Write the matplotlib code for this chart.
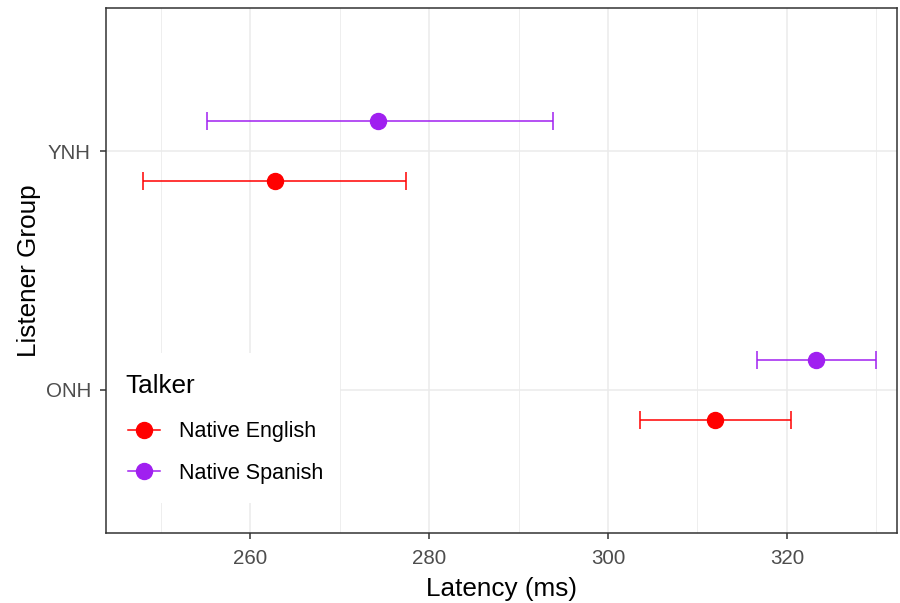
import matplotlib.pyplot as plt
from matplotlib.lines import Line2D
from matplotlib.patches import Rectangle
from matplotlib.ticker import MultipleLocator

plt.rcParams["font.family"] = ["Liberation Sans", "DejaVu Sans"]

# mean latency and interval bounds per listener group and talker
groups = ["ONH", "YNH"]
talkers = ["Native English", "Native Spanish"]
colors = ["#FF0000", "#A020F0"]
mean_ms = {"Native English": [312.0, 262.75], "Native Spanish": [323.2, 274.35]}
low_ms = {"Native English": [303.6, 248.0], "Native Spanish": [316.6, 255.2]}
high_ms = {"Native English": [320.4, 277.4], "Native Spanish": [329.9, 293.8]}
dodge = {"Native English": -0.125, "Native Spanish": 0.125}

fig = plt.figure(figsize=(9, 6.03), dpi=100)
ax = fig.add_axes([106 / 900, 1 - 533 / 603, 791 / 900, 525 / 603])

handles = []
for talker, col in zip(talkers, colors):
    ys = [i + 1 + dodge[talker] for i in range(len(groups))]
    xs = mean_ms[talker]
    xerr = [[m - l for m, l in zip(xs, low_ms[talker])],
            [h - m for m, h in zip(xs, high_ms[talker])]]
    ax.errorbar(xs, ys, xerr=xerr, fmt="o", color=col, ecolor=col,
                markersize=11.5, elinewidth=1.1, capsize=6.5, capthick=1.1,
                zorder=3)
    handles.append(Line2D([], [], color=col, marker="o", markersize=11.5,
                          linewidth=1.1, label=talker))

ax.set_xlim(243.9, 332.3)
ax.set_ylim(0.4, 2.6)
ax.set_yticks([1, 2])
ax.set_yticklabels(groups)
ax.xaxis.set_major_locator(MultipleLocator(20))
ax.xaxis.set_minor_locator(MultipleLocator(10))
ax.set_xticks([260, 280, 300, 320])

ax.grid(True, which="major", color="#EBEBEB", linewidth=1.1, zorder=0)
ax.grid(True, which="minor", axis="x", color="#EBEBEB", linewidth=0.6, zorder=0)
ax.set_axisbelow(True)
for s in ax.spines.values():
    s.set_color("#333333")
    s.set_linewidth(1.1)
ax.tick_params(which="major", length=4.3, width=1.1, color="#333333",
               labelsize=14.8, labelcolor="#4D4D4D")
ax.tick_params(axis="x", pad=7.2)
ax.tick_params(axis="y", pad=6.5)
ax.tick_params(which="minor", length=0)

ax.set_xlabel("Latency (ms)", fontsize=18.8, color="black", labelpad=6.6)
ax.set_ylabel("Listener Group", fontsize=18.8, color="black", labelpad=3)

# white legend background sitting over the grid
ax.add_patch(Rectangle((0, 30 / 525), 234 / 791, 150 / 525,
                       transform=ax.transAxes, facecolor="white",
                       edgecolor="none", zorder=1))
ax.text(19 / 791, (533 - 393) / 525, "Talker", transform=ax.transAxes,
        fontsize=18.8, color="black", ha="left", va="baseline", zorder=5)

leg = ax.legend(handles=handles, loc="center left",
                bbox_to_anchor=(22 / 791, (533 - 452.5) / 525),
                frameon=False, fontsize=15.5,
                handlelength=1.5, borderpad=0, labelspacing=0.93,
                handletextpad=0.88, borderaxespad=0)
leg.set_zorder(5)

fig.savefig("out.png", dpi=100)
